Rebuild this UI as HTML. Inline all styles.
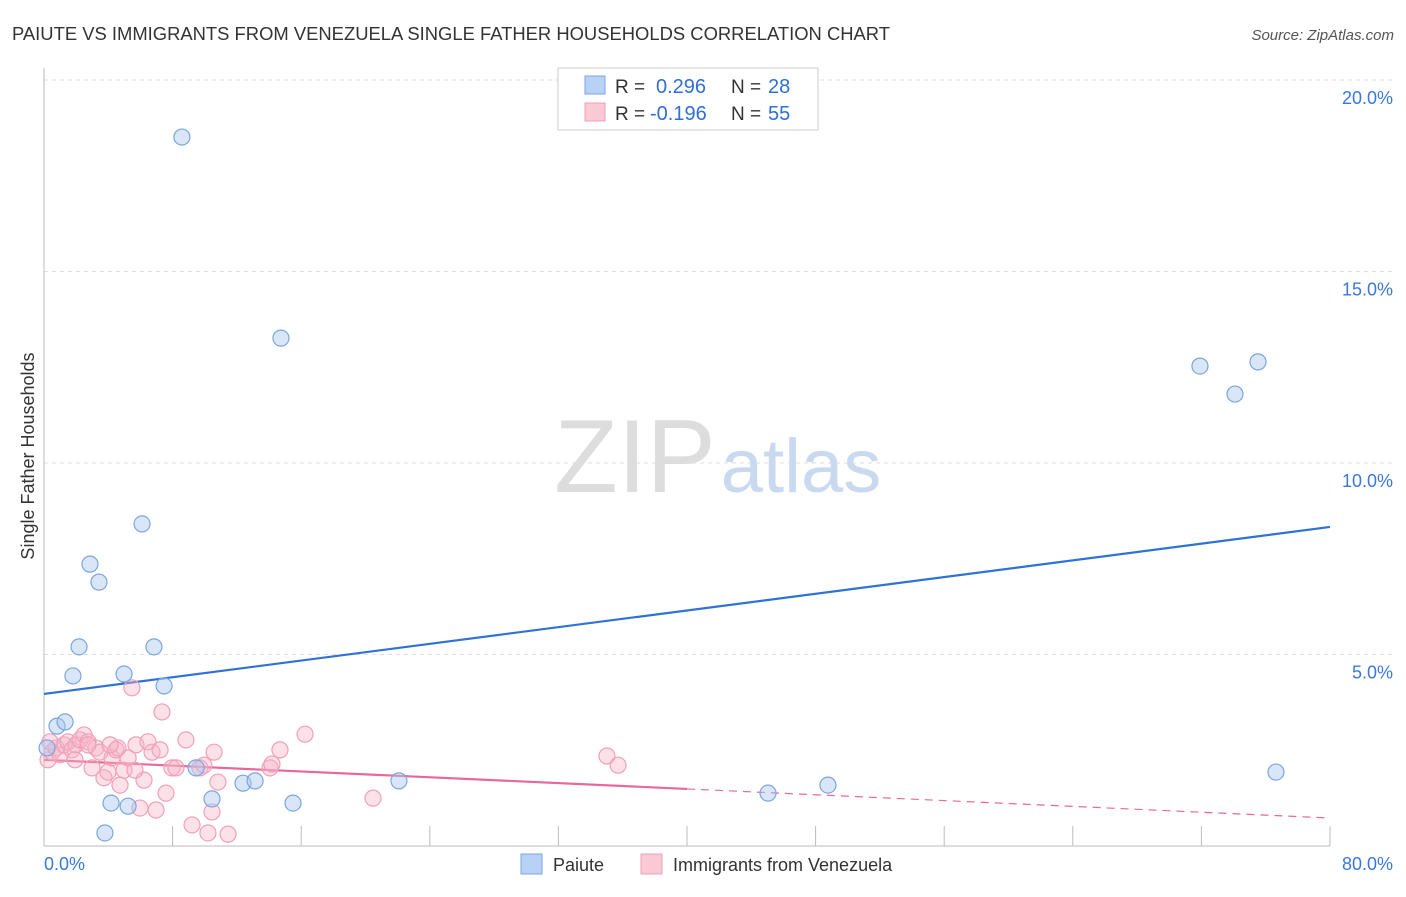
<!DOCTYPE html>
<html><head><meta charset="utf-8"><style>
body{margin:0;background:#fff;font-family:"Liberation Sans",sans-serif;}
svg text{font-family:"Liberation Sans",sans-serif;}
</style></head><body>
<svg id="c" width="1406" height="892" xmlns="http://www.w3.org/2000/svg">
<text x="12" y="40" font-size="18" fill="#333" textLength="878" lengthAdjust="spacingAndGlyphs">PAIUTE VS IMMIGRANTS FROM VENEZUELA SINGLE FATHER HOUSEHOLDS CORRELATION CHART</text>
<text x="1394" y="40" font-size="15" fill="#555" font-style="italic" text-anchor="end">Source: ZipAtlas.com</text>
<text x="34" y="456" font-size="18" fill="#333" text-anchor="middle" transform="rotate(-90 34 456)">Single Father Households</text>
<g>
<text x="635" y="492" font-size="104" font-family="Liberation Serif,serif" fill="#ddd" text-anchor="middle">ZIP</text>
<text x="801" y="492" font-size="76" fill="#c9daf0" text-anchor="middle">atlas</text>
</g>
<g id="grid"></g><g id="axes"></g><g id="lines"></g><g id="pts"></g>
<g>
<rect x="558" y="68" width="260" height="62" fill="#fff" stroke="#ccc"/>
<rect x="585" y="76" width="20" height="18" fill="#b8d2f5" stroke="#7aa6e0"/>
<text x="615" y="93" font-size="19" fill="#333">R = </text><text x="656" y="93" font-size="20" fill="#2f6fd6">0.296</text>
<text x="731" y="93" font-size="19" fill="#333">N = </text><text x="768" y="93" font-size="20" fill="#2f6fd6">28</text>
<rect x="585" y="103" width="20" height="18" fill="#fbc8d6" stroke="#eea0b8"/>
<text x="615" y="120" font-size="19" fill="#333">R = </text><text x="650" y="120" font-size="20" fill="#2f6fd6">-0.196</text>
<text x="731" y="120" font-size="19" fill="#333">N = </text><text x="768" y="120" font-size="20" fill="#2f6fd6">55</text>
</g>
<g>
<rect x="521" y="854" width="21" height="20" fill="#b8d2f5" stroke="#7aa6e0"/>
<text x="553" y="871" font-size="18" fill="#333">Paiute</text>
<rect x="641" y="854" width="21" height="20" fill="#fbc8d6" stroke="#eea0b8"/>
<text x="673" y="871" font-size="18" fill="#333">Immigrants from Venezuela</text>
</g>
</svg>
<script>
const blueX=[8.58,14.74,71.91,75.52,74.09,6.10,2.86,3.42,2.18,6.84,1.80,4.98,7.47,0.81,1.31,0.19,9.46,12.38,13.13,22.08,4.17,5.23,10.45,15.49,3.79,45.04,48.77,76.64];
const blueY=[18.51,13.26,12.53,12.64,11.80,8.41,7.36,6.89,5.20,5.20,4.44,4.49,4.18,3.13,3.24,2.56,2.04,1.64,1.70,1.70,1.12,1.04,1.23,1.12,0.34,1.38,1.59,1.93];
const pinkX=[0.25,0.5,0.75,1.0,1.24,1.49,1.74,1.99,2.24,2.49,2.74,2.99,3.23,3.48,3.73,3.98,4.23,4.48,4.73,4.98,5.23,5.47,5.72,5.97,6.22,6.47,6.72,6.97,7.22,7.34,7.59,7.96,8.21,8.83,9.21,9.70,9.95,10.2,10.45,10.58,10.82,11.45,14.06,14.18,14.68,16.24,20.47,35.02,35.71,0.37,2.74,4.60,5.66,1.93,4.11];
const pinkY=[2.25,2.45,2.56,2.38,2.64,2.72,2.51,2.64,2.77,2.90,2.72,2.04,2.56,2.45,1.78,1.93,2.30,2.51,1.59,1.98,2.30,4.13,2.64,0.99,1.72,2.72,2.45,0.94,2.51,3.50,1.38,2.04,2.04,2.77,0.55,2.04,2.11,0.34,0.89,2.45,1.67,0.31,2.04,2.14,2.51,2.92,1.25,2.35,2.11,2.72,2.64,2.56,1.98,2.25,2.64];
const yTicks=[5,10,15,20];
const xTickLabels=["0.0%","80.0%"];
const blueTrend=[3.97,8.33];
const pinkTrend=[2.25,0.73];
const pinkSolidEnd=40;
const NS="http://www.w3.org/2000/svg";
const X=v=>44+v/80*1286, Y=v=>846-v*38.3;
function mk(t,a,p){const e=document.createElementNS(NS,t);for(const k in a)e.setAttribute(k,a[k]);p.appendChild(e);return e;}
const grid=document.getElementById('grid'),axes=document.getElementById('axes'),lines=document.getElementById('lines'),pts=document.getElementById('pts');
yTicks.forEach(t=>{
 const g=mk('line',{x1:44,x2:1394,y1:Y(t),y2:Y(t),stroke:'#ddd','stroke-dasharray':'4,4'},grid);
 
 
 const l=mk('text',{x:1393,y:Y(t)+24,'font-size':18,fill:'#3a78d8','text-anchor':'end'},axes);l.textContent=t.toFixed(1)+'%';
 
 
});
const ax=mk('line',{x1:44,x2:44,y1:68,y2:846,stroke:'#bbb'},axes);


const bx=mk('line',{x1:44,x2:1330,y1:846,y2:846,stroke:'#bbb'},axes);


for(let i=0;i<=10;i++){const t=mk('line',{x1:X(i*8),x2:X(i*8),y1:826,y2:846,stroke:'#bbb'},axes);
 
 }
const l0=mk('text',{x:44,y:870,'font-size':18,fill:'#3a78d8'},axes);l0.textContent=xTickLabels[0];


const l1=mk('text',{x:1393,y:870,'font-size':18,fill:'#3a78d8','text-anchor':'end'},axes);l1.textContent=xTickLabels[1];


pinkX.forEach((x,i)=>{const c=mk('circle',{cx:X(x),cy:Y(pinkY[i]),r:8,fill:'rgba(248,180,200,0.4)',stroke:'#f0a0b8','stroke-width':1.2},pts);
 
 });
blueX.forEach((x,i)=>{const c=mk('circle',{cx:X(x),cy:Y(blueY[i]),r:8,fill:'rgba(170,200,240,0.45)',stroke:'#7aa6e0','stroke-width':1.2},pts);
 
 });
const bl=mk('line',{x1:X(0),y1:Y(blueTrend[0]),x2:X(80),y2:Y(blueTrend[1]),stroke:'#2f72d6','stroke-width':2.2},lines);


const py=x=>pinkTrend[0]+(pinkTrend[1]-pinkTrend[0])*x/80;
const pl=mk('line',{x1:X(0),y1:Y(pinkTrend[0]),x2:X(pinkSolidEnd),y2:Y(py(pinkSolidEnd)),stroke:'#e8689a','stroke-width':2.2},lines);


const pd=mk('line',{x1:X(pinkSolidEnd),y1:Y(py(pinkSolidEnd)),x2:X(80),y2:Y(pinkTrend[1]),stroke:'#e8689a','stroke-width':1.2,'stroke-dasharray':'8,6'},lines);


</script>
</body></html>
